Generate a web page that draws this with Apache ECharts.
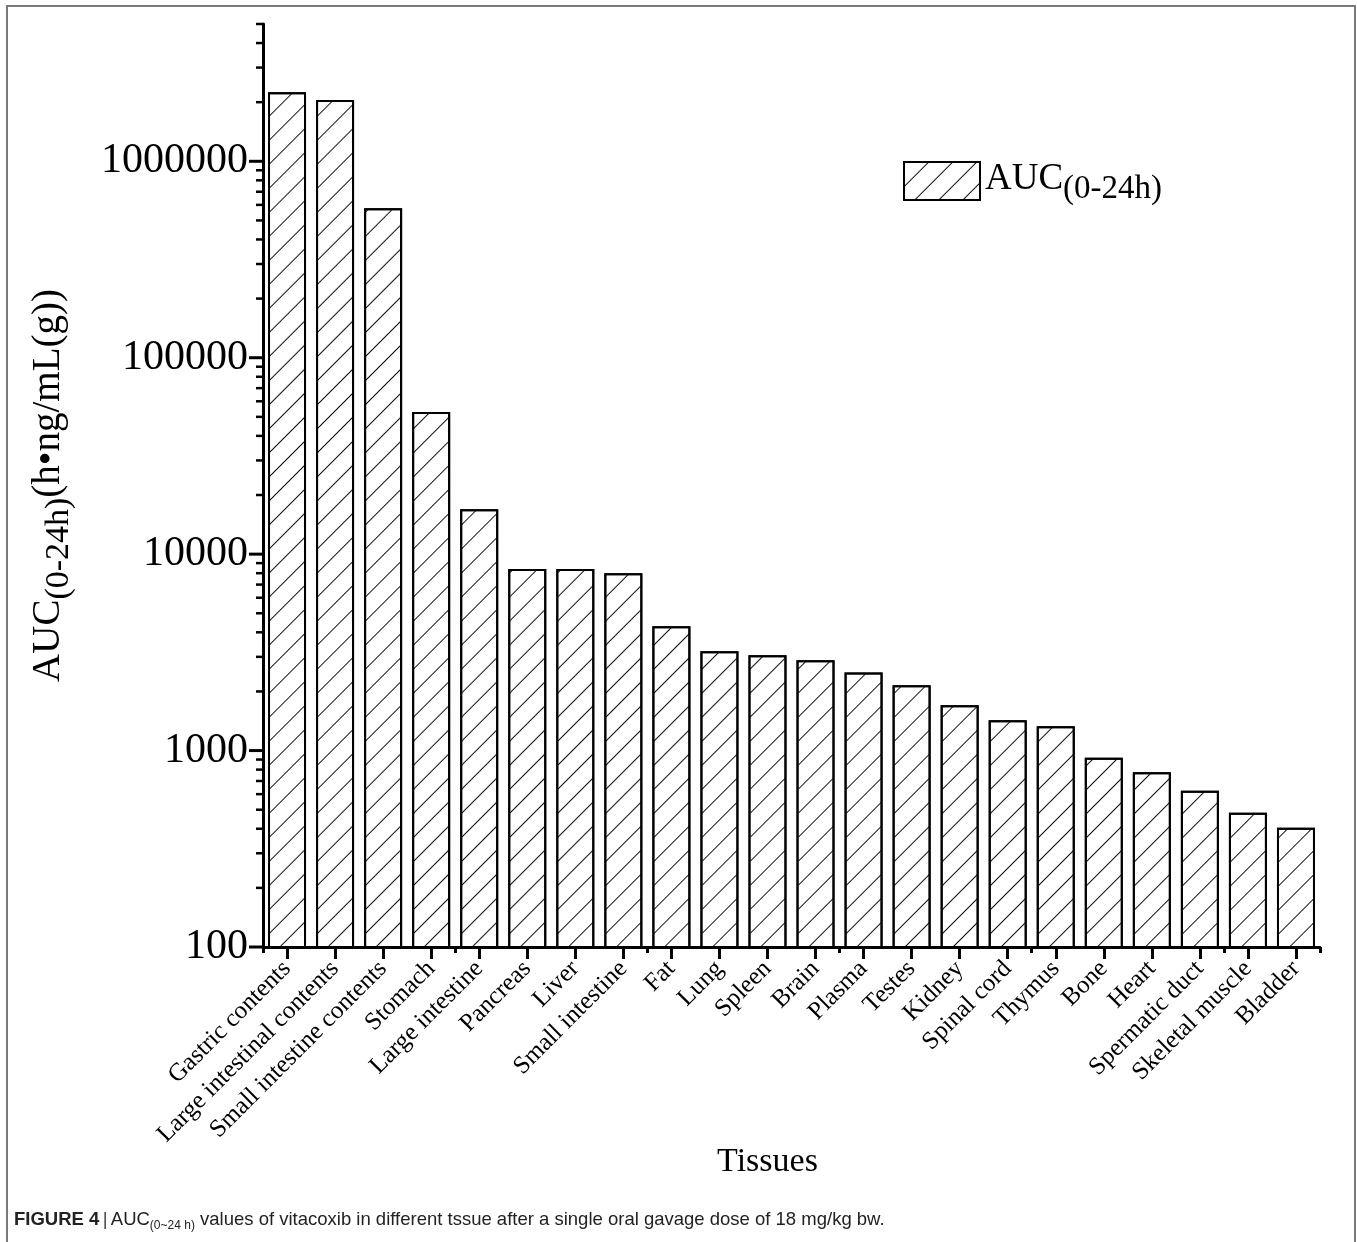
<!DOCTYPE html>
<html>
<head>
<meta charset="utf-8">
<script src="https://cdn.jsdelivr.net/npm/echarts@6/dist/echarts.min.js"></script>
<style>
  html, body { margin: 0; padding: 0; background: #fff; }
  #wrap { position: relative; width: 1357px; height: 1242px; overflow: hidden; background: #fff; }
  #frame { position: absolute; left: 6px; top: 5px; width: 1350px; height: 1300px; border: 2px solid #7a7a7a; box-sizing: border-box; }
  #chart { position: absolute; left: 0; top: 0; width: 1357px; height: 1242px; }
</style>
</head>
<body>
<div id="wrap">
  <div id="frame"></div>
  <div id="chart"></div>
</div>
<script>
const categories = ['Gastric contents', 'Large intestinal contents', 'Small intestine contents', 'Stomach',
  'Large intestine', 'Pancreas', 'Liver', 'Small intestine', 'Fat', 'Lung', 'Spleen', 'Brain', 'Plasma',
  'Testes', 'Kidney', 'Spinal cord', 'Thymus', 'Bone', 'Heart', 'Spermatic duct', 'Skeletal muscle', 'Bladder'];
const aucValues = [2245000, 2050000, 576000, 53000, 16950, 8390, 8390, 8000, 4300, 3200, 3060, 2880, 2500,
  2150, 1700, 1425, 1330, 920, 775, 625, 483, 405];
const majorTickValues = [100, 1000, 10000, 100000, 1000000];
const minorTickValues = [200, 300, 400, 500, 600, 700, 800, 900,
  2000, 3000, 4000, 5000, 6000, 7000, 8000, 9000,
  20000, 30000, 40000, 50000, 60000, 70000, 80000, 90000,
  200000, 300000, 400000, 500000, 600000, 700000, 800000, 900000,
  2000000, 3000000, 4000000, 5000000];
const yMin = 100, yMax = 5000000;

const serif = 'Liberation Serif, Times New Roman, serif';
const sans = 'Liberation Sans, Arial, sans-serif';
const tickData = majorTickValues.map(v => [0, v, 14]).concat(minorTickValues.map(v => [0, v, 7]));

const chart = echarts.init(document.getElementById('chart'), null, { renderer: 'canvas' });
chart.setOption({
  backgroundColor: 'transparent',
  animation: false,
  grid: { left: 263, right: 37, top: 24, bottom: 295, containLabel: false },
  legend: {
    data: ['AUC'],
    left: 903, top: 161,
    padding: 0,
    itemWidth: 76, itemHeight: 38,
    icon: 'rect',
    formatter: () => '{a|AUC}{b|(0-24h)}',
    textStyle: {
      color: '#000',
      rich: {
        a: { fontFamily: serif, fontSize: 37, color: '#000', verticalAlign: 'top', lineHeight: 40 },
        b: { fontFamily: serif, fontSize: 33, color: '#000', verticalAlign: 'top', lineHeight: 36, padding: [12, 0, 0, 0] }
      }
    }
  },
  xAxis: [{
    type: 'category',
    data: categories,
    name: 'Tissues',
    nameLocation: 'middle',
    nameGap: 198,
    nameMoveOverlap: false,
    nameTextStyle: { fontFamily: serif, fontSize: 34, color: '#000', verticalAlign: 'top', padding: [0, 48, 0, 0] },
    axisLine: { show: true, lineStyle: { color: '#000', width: 3 } },
    axisTick: { show: true, alignWithLabel: true, length: 12, lineStyle: { color: '#000', width: 3 } },
    axisLabel: { interval: 0, rotate: 45, margin: 18, fontFamily: serif, fontSize: 25, color: '#000' },
    splitLine: { show: false }
  }, {
    type: 'category',
    data: categories,
    position: 'bottom',
    axisLine: { show: false },
    axisTick: { show: true, alignWithLabel: false, length: 6, lineStyle: { color: '#000', width: 3 } },
    axisLabel: { show: false },
    splitLine: { show: false }
  }],
  yAxis: {
    type: 'log',
    logBase: 10,
    min: yMin,
    max: yMax,
    name: '{a|AUC}{b|(0-24h)}{a|(h•ng/mL(g))}',
    nameLocation: 'middle',
    nameRotate: 90,
    nameGap: 190,
    nameTextStyle: {
      color: '#000',
      rich: {
        a: { fontFamily: serif, fontSize: 39, color: '#000', verticalAlign: 'top', lineHeight: 44 },
        b: { fontFamily: serif, fontSize: 34, color: '#000', verticalAlign: 'top', lineHeight: 38, padding: [13, 0, 0, 0] }
      }
    },
    axisLine: { show: true, lineStyle: { color: '#000', width: 3 } },
    axisTick: { show: false },
    splitLine: { show: false },
    axisLabel: {
      margin: 15,
      fontFamily: serif, fontSize: 42, color: '#000',
      formatter: function (v) {
        const l = Math.log10(v);
        return Math.abs(l - Math.round(l)) < 1e-6 ? String(Math.round(Math.pow(10, Math.round(l)))) : '';
      }
    }
  },
  series: [{
    name: 'AUC',
    type: 'bar',
    data: aucValues,
    barWidth: 38,
    itemStyle: {
      color: '#ffffff',
      borderColor: '#000',
      borderWidth: 2,
      decal: {
        symbol: 'rect',
        symbolSize: 1,
        dashArrayX: [1, 0],
        dashArrayY: [1, 15.5],
        rotation: -Math.PI / 4,
        color: '#111'
      }
    }
  }, {
    type: 'custom',
    silent: true,
    clip: false,
    z: 10,
    encode: { x: 0, y: 1 },
    data: tickData,
    renderItem: function (params, api) {
      const v = api.value(1);
      const len = api.value(2);
      const p = api.coord([0, v]);
      const bw = api.size([1, 0])[0];
      const x0 = p[0] - bw / 2;
      return {
        type: 'line',
        shape: { x1: x0 - len, y1: p[1], x2: x0, y2: p[1] },
        style: { stroke: '#000', lineWidth: len > 10 ? 3 : 2.5 }
      };
    }
  }],
  graphic: [{
    type: 'text',
    left: 14,
    top: 1210,
    style: {
      text: '{bold|FIGURE 4} {bar||} {n|AUC}{sub|(0~24 h)}{n| values of vitacoxib in different tssue after a single oral gavage dose of 18 mg/kg bw.}',
      rich: {
        bold: { fontFamily: sans, fontWeight: 'bold', fontSize: 18.5, fill: '#222', verticalAlign: 'top', lineHeight: 22 },
        bar: { fontFamily: sans, fontSize: 18.5, fill: '#444', verticalAlign: 'top', lineHeight: 22 },
        n: { fontFamily: sans, fontSize: 18.5, fill: '#222', verticalAlign: 'top', lineHeight: 22 },
        sub: { fontFamily: sans, fontSize: 12, fill: '#222', verticalAlign: 'top', lineHeight: 12, padding: [10, 0, 0, 0] }
      }
    }
  }]
});
</script>
</body>
</html>
